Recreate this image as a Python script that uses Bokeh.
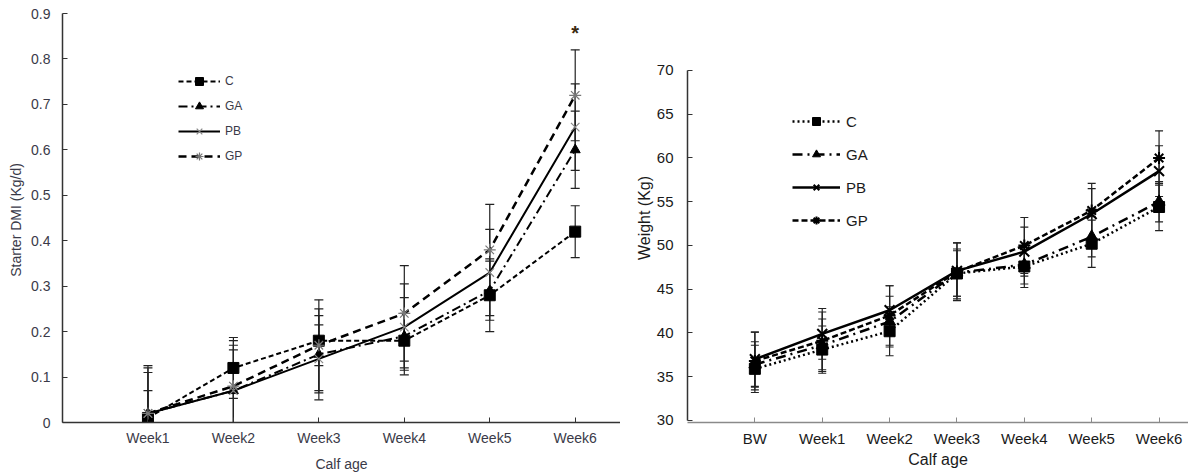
import numpy as np
from bokeh.plotting import figure
from bokeh.models import (ColumnDataSource, Whisker, TeeHead, FixedTicker, Legend,
                          LegendItem, Range1d, Label)
from bokeh.layouts import row
from bokeh.embed import file_html
from bokeh.resources import INLINE

# ---------------- data: starter DMI ----------------
dmi_labels = ["Week1", "Week2", "Week3", "Week4", "Week5", "Week6"]
dmi_C = [0.01, 0.12, 0.18, 0.18, 0.28, 0.42]
dmi_C_sd = [0.115, 0.067, 0.055, 0.06, 0.08, 0.057]
dmi_GA = [0.02, 0.07, 0.15, 0.19, 0.29, 0.60]
dmi_GA_sd = [0.10, 0.09, 0.10, 0.085, 0.065, 0.085]
dmi_PB = [0.02, 0.07, 0.14, 0.21, 0.33, 0.65]
dmi_PB_sd = [0.09, 0.10, 0.075, 0.095, 0.095, 0.095]
dmi_GP = [0.02, 0.08, 0.17, 0.24, 0.38, 0.72]
dmi_GP_sd = [0.05, 0.10, 0.10, 0.105, 0.10, 0.10]
dmi_ticks = [0, 0.1, 0.2, 0.3, 0.4, 0.5, 0.6, 0.7, 0.8, 0.9]
sig_label = "*"
sig_week = 6
sig_y = 0.856

# ---------------- data: body weight ----------------
wt_labels = ["BW", "Week1", "Week2", "Week3", "Week4", "Week5", "Week6"]
wt_C = [35.9, 38.1, 40.2, 46.8, 47.6, 50.2, 54.4]
wt_C_sd = [2.7, 2.7, 2.8, 2.6, 2.4, 2.7, 2.7]
wt_GA = [36.4, 38.6, 41.3, 46.9, 47.8, 51.0, 55.0]
wt_GA_sd = [2.6, 3.0, 2.9, 2.7, 2.2, 2.3, 2.3]
wt_PB = [37.0, 39.9, 42.6, 47.1, 49.3, 53.6, 58.5]
wt_PB_sd = [3.1, 2.9, 2.8, 3.2, 2.8, 2.9, 2.9]
wt_GP = [36.8, 39.1, 42.0, 47.0, 50.0, 54.0, 60.0]
wt_GP_sd = [3.3, 3.3, 3.4, 3.3, 3.2, 3.1, 3.1]
wt_ticks = [30, 35, 40, 45, 50, 55, 60, 65, 70]
wt_axis_bounds = (30, 70)

FONT = "Liberation Sans"
FIG_H = 474
BORDER_TOP = 13
BORDER_BOTTOM = 52


def style_axes(p, tick_size, title_size, label_color, xline, yline):
    p.outline_line_color = None
    p.xgrid.visible = False
    p.ygrid.visible = False
    p.background_fill_color = "white"
    for ax in (p.xaxis[0], p.yaxis[0]):
        ax.major_tick_in = 5
        ax.major_tick_out = 0
        ax.minor_tick_line_color = None
        ax.major_label_text_font = FONT
        ax.major_label_text_font_size = tick_size
        ax.major_label_text_color = label_color
        ax.axis_label_text_font = FONT
        ax.axis_label_text_font_size = title_size
        ax.axis_label_text_font_style = "normal"
        ax.axis_label_text_color = label_color
    p.xaxis[0].axis_line_color = xline
    p.xaxis[0].major_tick_line_color = xline
    p.yaxis[0].axis_line_color = yline
    p.yaxis[0].major_tick_line_color = yline
    p.xaxis[0].axis_line_width = 1.5
    p.yaxis[0].axis_line_width = 1.5


def add_series(p, xs, ys, sds, clip_low, line_kw, marker_kw, head):
    ys = np.array(ys, dtype=float)
    sds = np.array(sds, dtype=float)
    lower = ys - sds
    if clip_low is not None:
        lower = np.maximum(lower, clip_low)
    src = ColumnDataSource(dict(x=xs, y=ys, upper=ys + sds, lower=lower))
    w = Whisker(base="x", upper="upper", lower="lower", source=src,
                line_color="#222222", line_width=1.2,
                upper_head=TeeHead(size=head, line_color="#222222", line_width=1.2),
                lower_head=TeeHead(size=head, line_color="#222222", line_width=1.2))
    p.add_layout(w)
    lr = p.line("x", "y", source=src, **line_kw)
    mr = p.scatter("x", "y", source=src, **marker_kw)
    return [lr, mr]


# ---------------- left figure ----------------
x_dmi = [i + 1 for i in range(len(dmi_labels))]
p1 = figure(width=620, height=FIG_H, x_range=Range1d(0, 6.53), y_range=Range1d(0, 0.9),
            output_backend="svg", toolbar_location=None,
            min_border_left=62, min_border_right=0,
            min_border_top=BORDER_TOP, min_border_bottom=BORDER_BOTTOM)
style_axes(p1, "14px", "14px", "#3a3a48", "#333333", "#333333")
p1.xaxis.ticker = FixedTicker(ticks=x_dmi)
p1.xaxis.major_label_overrides = {x: lab for x, lab in zip(x_dmi, dmi_labels)}
p1.yaxis.ticker = FixedTicker(ticks=dmi_ticks)
p1.yaxis.major_label_overrides = {0: "0"}
p1.xaxis.axis_label = "Calf age"
p1.yaxis.axis_label = "Starter DMI  (Kg/d)"
p1.xaxis.major_label_standoff = 7
p1.xaxis.axis_label_standoff = 7
p1.yaxis.major_label_standoff = 12
p1.yaxis.axis_label_standoff = 4

r_C = add_series(p1, x_dmi, dmi_C, dmi_C_sd, 0,
                 dict(line_color="black", line_width=2, line_dash="5 3"),
                 dict(marker="square", size=11, fill_color="black", line_color="black"), 9)
r_GA = add_series(p1, x_dmi, dmi_GA, dmi_GA_sd, 0,
                  dict(line_color="black", line_width=2, line_dash="9 4 2 4"),
                  dict(marker="triangle", size=10, fill_color="black", line_color="black"), 9)
r_PB = add_series(p1, x_dmi, dmi_PB, dmi_PB_sd, 0,
                  dict(line_color="black", line_width=2),
                  dict(marker="x", size=12, line_color="#888888", line_width=1.2), 9)
r_GP = add_series(p1, x_dmi, dmi_GP, dmi_GP_sd, 0,
                  dict(line_color="black", line_width=2.5, line_dash="8 5"),
                  dict(marker="asterisk", size=12, line_color="#777777", line_width=1.2), 9)

leg1 = Legend(items=[LegendItem(label="C", renderers=r_C),
                     LegendItem(label="GA", renderers=r_GA),
                     LegendItem(label="PB", renderers=r_PB),
                     LegendItem(label="GP", renderers=r_GP)],
              location=(116, 256), border_line_color=None, background_fill_alpha=0,
              padding=0, margin=0, spacing=5, glyph_width=42, glyph_height=20,
              label_height=20, label_standoff=5, label_text_font=FONT,
              label_text_font_size="12px", label_text_color="#3a3a48")
p1.add_layout(leg1)

p1.add_layout(Label(x=sig_week, y=sig_y, text=sig_label, text_font=FONT,
                    text_font_size="20px", text_font_style="bold", text_align="center",
                    text_baseline="middle", text_color="#3a2a10"))

# ---------------- right figure ----------------
# frame shares top/bottom with the left one; the y axis is bounded to 30..70
x_wt = [i + 1 for i in range(len(wt_labels))]
p2 = figure(width=568, height=FIG_H, x_range=Range1d(0, 7.437),
            y_range=Range1d(29.771, 76.514),
            output_backend="svg", toolbar_location=None,
            min_border_left=67, min_border_right=0,
            min_border_top=BORDER_TOP, min_border_bottom=BORDER_BOTTOM)
style_axes(p2, "15px", "16px", "#1a1a1a", "#8a8a8a", "#333333")
p2.xaxis.ticker = FixedTicker(ticks=x_wt)
p2.xaxis.major_label_overrides = {x: lab for x, lab in zip(x_wt, wt_labels)}
p2.yaxis.ticker = FixedTicker(ticks=wt_ticks)
p2.yaxis.bounds = wt_axis_bounds
p2.xaxis.axis_label = "Calf age"
p2.yaxis.axis_label = "Weight (Kg)"
p2.xaxis.major_label_standoff = 7
p2.xaxis.axis_label_standoff = 1
p2.yaxis.major_label_standoff = 14
p2.yaxis.axis_label_standoff = 1

s_C = add_series(p2, x_wt, wt_C, wt_C_sd, None,
                 dict(line_color="black", line_width=2.5, line_dash="2 3"),
                 dict(marker="square", size=11, fill_color="black", line_color="black"), 8)
s_GA = add_series(p2, x_wt, wt_GA, wt_GA_sd, None,
                  dict(line_color="black", line_width=2.5, line_dash="10 5 2 5"),
                  dict(marker="triangle", size=12, fill_color="black", line_color="black"), 8)
s_PB = add_series(p2, x_wt, wt_PB, wt_PB_sd, None,
                  dict(line_color="black", line_width=2.5),
                  dict(marker="x", size=14, line_color="black", line_width=2), 8)
s_GP = add_series(p2, x_wt, wt_GP, wt_GP_sd, None,
                  dict(line_color="black", line_width=2.5, line_dash="6 3"),
                  dict(marker="asterisk", size=12, line_color="black", line_width=2), 8)

leg2 = Legend(items=[LegendItem(label="C", renderers=s_C),
                     LegendItem(label="GA", renderers=s_GA),
                     LegendItem(label="PB", renderers=s_PB),
                     LegendItem(label="GP", renderers=s_GP)],
              location=(105, 192), border_line_color=None, background_fill_alpha=0,
              padding=0, margin=0, spacing=13, glyph_width=48, glyph_height=20,
              label_height=20, label_standoff=6, label_text_font=FONT,
              label_text_font_size="15px", label_text_color="#1a1a1a")
p2.add_layout(leg2)

layout = row(p1, p2)
open("out.html", "w").write(file_html(layout, INLINE))
